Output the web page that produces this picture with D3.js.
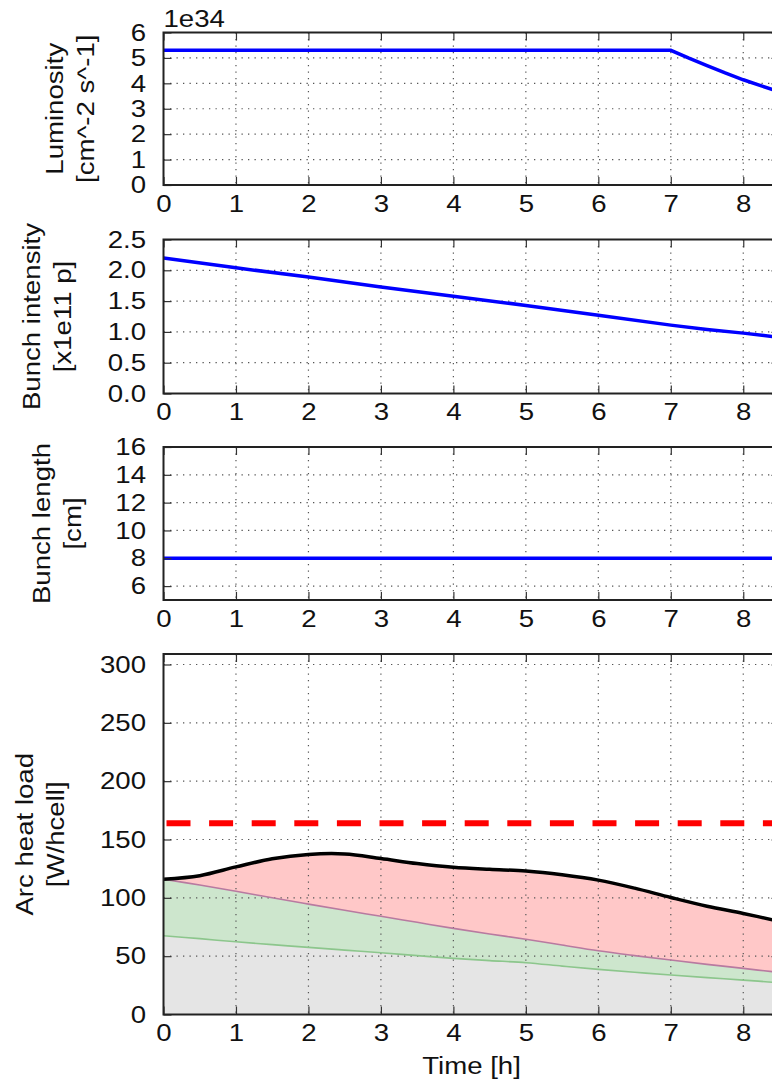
<!DOCTYPE html>
<html>
<head>
<meta charset="utf-8">
<script src="https://cdn.jsdelivr.net/npm/d3@7"></script>
<style>
body { margin: 0; background: #fff; }
text { font-family: "Liberation Sans", Arial, sans-serif; fill: #111; }
</style>
</head>
<body>
<script>
// ---- data ----
var hourTicks = [0, 1, 2, 3, 4, 5, 6, 7, 8];

var lumiTime = [0, 7, 7.25, 7.5, 7.75, 8, 8.25, 8.5];
var lumiVal  = [5.3, 5.3, 4.99, 4.70, 4.41, 4.14, 3.90, 3.67];   // x1e34
var lumiTicks = [0, 1, 2, 3, 4, 5, 6];

var intTime = [0, 1, 2, 3, 4, 5, 6, 7, 7.5, 8, 8.5];
var intVal  = [2.20, 2.04, 1.89, 1.73, 1.58, 1.43, 1.27, 1.11, 1.04, 0.98, 0.91];
var intTicks = [0, 0.5, 1, 1.5, 2, 2.5];

var blenTime = [0, 8.5];
var blenVal  = [8.0, 8.0];
var blenTicks = [6, 8, 10, 12, 14, 16];

var hlTime   = [0, 0.5, 1, 1.5, 2, 2.5, 3, 3.5, 4, 4.5, 5, 5.5, 6, 6.5, 7, 7.5, 8, 8.5];
var hlTotal  = [116, 119, 126.5, 133.5, 137.2, 137.6, 133.7, 129.4, 126.2, 124.4, 123, 119.8, 115.2, 108.3, 100.3, 92.8, 86.6, 79.8];
var hlImp    = [116, 111, 105.7, 100, 94.6, 89.3, 84.2, 79, 73.8, 69, 64.5, 59.5, 54.6, 50.5, 46.7, 43, 39.5, 36];
var hlSR     = [67.5, 65, 62.3, 59.9, 57.5, 55.2, 52.9, 50.5, 48.1, 46.2, 44.4, 41.5, 38.7, 36.2, 33.8, 31.6, 29.5, 27.2];
var hlLimit  = 164;
var hlTicks  = [0, 50, 100, 150, 200, 250, 300];

// ---- layout ----
var W = 772, H = 1081;
var left = 163.5, right = 779.5;
var fs = 24, stretch = 1.15;

var svg = d3.select("body").append("svg")
  .attr("width", W).attr("height", H);

var x = d3.scaleLinear().domain([0, 8.5]).range([left, right]);

function zip(t, v) { return t.map(function(d, i) { return [d, v[i]]; }); }

function panel(top, bottom, domain, ticks, fmt, labels, labelX) {
  var y = d3.scaleLinear().domain(domain).range([bottom, top]);
  var g = svg.append("g");
  var back = g.append("g");
  var grid = g.append("g");
  var front = g.append("g");

  // grid
  grid.selectAll(".gx").data(hourTicks.filter(function(d){ return d > 0; }))
    .enter().append("line")
    .attr("x1", function(d){ return x(d); }).attr("x2", function(d){ return x(d); })
    .attr("y1", top).attr("y2", bottom)
    .attr("stroke", "#555").attr("stroke-width", 1.2).attr("stroke-dasharray", "1.3,5.2");
  grid.selectAll(".gy").data(ticks.filter(function(d){ return d > domain[0] && d < domain[1]; }))
    .enter().append("line")
    .attr("x1", left).attr("x2", right)
    .attr("y1", function(d){ return y(d); }).attr("y2", function(d){ return y(d); })
    .attr("stroke", "#555").attr("stroke-width", 1.2).attr("stroke-dasharray", "1.3,5.2");

  // axes with inward ticks
  var ax = g.append("g").attr("transform", "translate(0," + bottom + ")")
    .call(d3.axisBottom(x).tickValues(hourTicks).tickSize(-8).tickPadding(9.5).tickFormat(d3.format("d")));
  var axTop = g.append("g").attr("transform", "translate(0," + top + ")")
    .call(d3.axisTop(x).tickValues(hourTicks).tickSize(-8).tickFormat(""));
  var ay = g.append("g").attr("transform", "translate(" + left + ",0)")
    .call(d3.axisLeft(y).tickValues(ticks).tickSize(-8).tickPadding(17.5 / stretch).tickFormat(fmt));
  var ayR = g.append("g").attr("transform", "translate(" + right + ",0)")
    .call(d3.axisRight(y).tickValues(ticks).tickSize(-8).tickFormat(""));
  [ax, axTop, ay, ayR].forEach(function(a) {
    a.select(".domain").remove();
    a.attr("color", "#333");
    a.selectAll(".tick line").attr("stroke-width", 1.2);
    a.selectAll("text").attr("font-size", fs).attr("font-family", "Liberation Sans, Arial, sans-serif")
      .attr("fill", "#111").attr("transform", "scale(" + stretch + ",1)");
  });

  // spines
  g.append("rect").attr("x", left).attr("y", top)
    .attr("width", right - left).attr("height", bottom - top)
    .attr("fill", "none").attr("stroke", "#222").attr("stroke-width", 2);

  // y label, two lines
  var cy = (top + bottom) / 2;
  labels.forEach(function(s, i) {
    g.append("text")
      .attr("transform", "translate(" + (labelX + i * 31) + "," + cy + ") rotate(-90) scale(" + stretch + ",1)")
      .attr("text-anchor", "middle").attr("font-size", fs).text(s);
  });

  return { y: y, back: back, front: front };
}

var blueLine = function(p, t, v) {
  p.front.append("path")
    .datum(zip(t, v))
    .attr("d", d3.line().x(function(d){ return x(d[0]); }).y(function(d){ return p.y(d[1]); }))
    .attr("fill", "none").attr("stroke", "#0000ff").attr("stroke-width", 3.5);
};

// panel 1: luminosity
var p1 = panel(32.5, 185, [0, 6], lumiTicks, d3.format("d"), ["Luminosity", "[cm^-2 s^-1]"], 63);
blueLine(p1, lumiTime, lumiVal);
svg.append("text").attr("transform", "translate(" + left + ",26.5) scale(" + stretch + ",1)")
  .attr("font-size", fs).text("1e34");

// panel 2: bunch intensity
var p2 = panel(239.5, 393.5, [0, 2.5], intTicks, d3.format(".1f"), ["Bunch intensity", "[x1e11 p]"], 40);
blueLine(p2, intTime, intVal);

// panel 3: bunch length
var p3 = panel(447, 600, [5, 16], blenTicks, d3.format("d"), ["Bunch length", "[cm]"], 50);
blueLine(p3, blenTime, blenVal);

// panel 4: arc heat load
var p4 = panel(654, 1014.5, [0, 309], hlTicks, d3.format("d"), ["Arc heat load", "[W/hcell]"], 33);
var y4 = p4.y;
var curve = d3.curveCatmullRom.alpha(0.5);
function band(lo, hi, color) {
  var rows = hlTime.map(function(t, i) { return { t: t, lo: lo ? lo[i] : 0, hi: hi[i] }; });
  p4.back.append("path").datum(rows)
    .attr("d", d3.area().x(function(d){ return x(d.t); })
      .y0(function(d){ return y4(d.lo); }).y1(function(d){ return y4(d.hi); }).curve(curve))
    .attr("fill", color);
}
band(null, hlSR, "#e5e5e5");
band(hlSR, hlImp, "#cde6cd");
band(hlImp, hlTotal, "#ffc8c8");

function hlLine(v, color, w) {
  p4.front.append("path").datum(zip(hlTime, v))
    .attr("d", d3.line().x(function(d){ return x(d[0]); }).y(function(d){ return y4(d[1]); }).curve(curve))
    .attr("fill", "none").attr("stroke", color).attr("stroke-width", w);
}
hlLine(hlSR, "#8cc68c", 1.6);
hlLine(hlImp, "#b87aa0", 1.6);
hlLine(hlTotal, "#000", 3.5);

p4.front.append("line")
  .attr("x1", x(0)).attr("x2", x(8.5))
  .attr("y1", y4(hlLimit)).attr("y2", y4(hlLimit))
  .attr("stroke", "#ff0000").attr("stroke-width", 6)
  .attr("stroke-dasharray", "24,18.6").attr("stroke-dashoffset", -3);

// x label
svg.append("text").attr("transform", "translate(" + ((left + right) / 2) + ",1073.5) scale(" + stretch + ",1)")
  .attr("text-anchor", "middle").attr("font-size", fs).text("Time [h]");
</script>
</body>
</html>
